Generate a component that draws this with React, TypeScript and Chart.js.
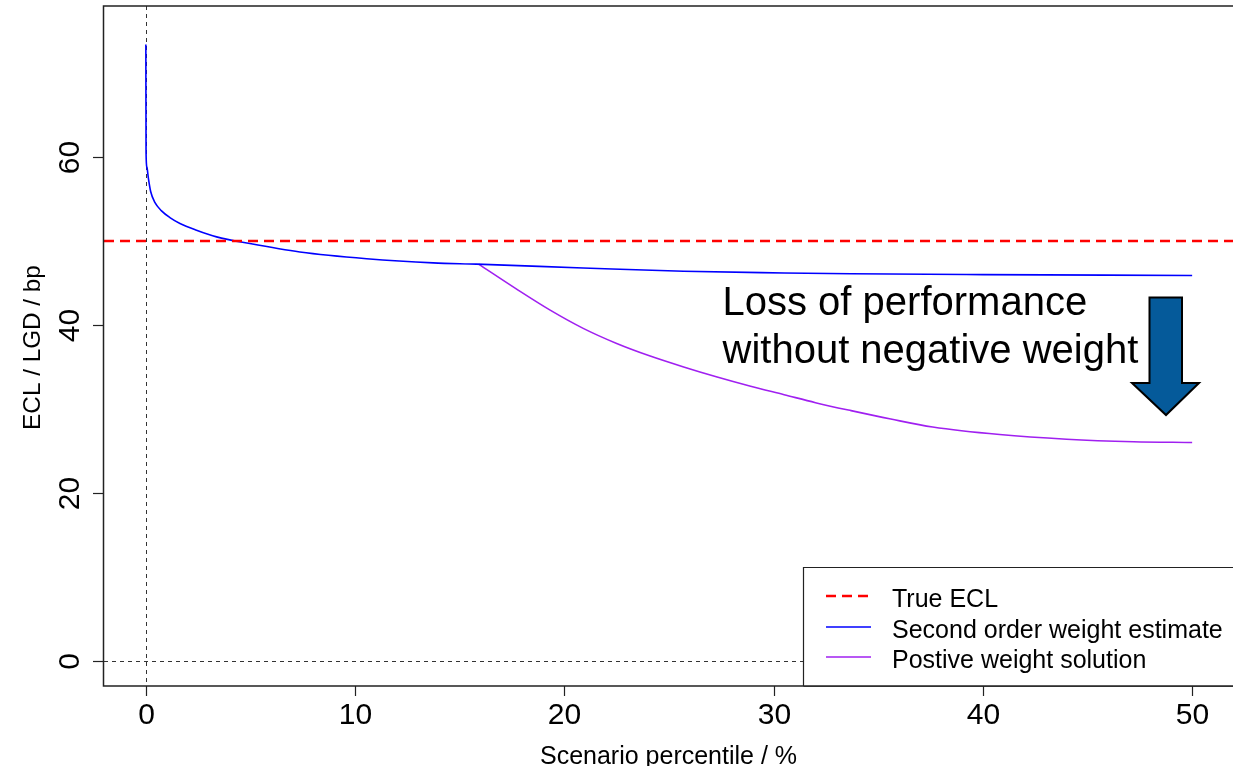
import React, { useEffect, useRef } from "react";
import { Chart, registerables } from "chart.js";

Chart.register(...registerables);

// ---- data ----
const xTicks = [0, 10, 20, 30, 40, 50];
const yTicks = [0, 20, 40, 60];
const xMin = -2;
const xMax = 52;
const yMin = -3;
const yMax = 78;

const trueEcl = 50;

const secondOrderX = [0, 0.01, 0.05, 0.12, 0.23, 0.43, 0.75, 1.15, 1.63, 2.42, 3.38, 4.97, 7.36, 10.55, 13.73, 15.8, 20.9, 25.7, 30.5, 33.7, 40, 50];
const secondOrderY = [73.4, 60.5, 58.8, 57.5, 55.9, 54.6, 53.6, 52.8, 52.1, 51.3, 50.5, 49.7, 48.7, 47.9, 47.4, 47.25, 46.8, 46.4, 46.2, 46.1, 46.0, 45.9];

const positiveX = [15.9, 17.7, 19.3, 20.9, 22.5, 24.1, 25.7, 27.3, 28.9, 30.5, 32.0, 33.7, 35.6, 37.6, 40.8, 44.0, 47.2, 50];
const positiveY = [47.25, 44.3, 41.8, 39.6, 37.8, 36.3, 35.0, 33.8, 32.7, 31.7, 30.75, 29.8, 28.8, 27.85, 26.95, 26.4, 26.1, 26.0];

const legendLabels = ["True ECL", "Second order weight estimate", "Postive weight solution"];
const annotationLines = ["Loss of performance", "without negative weight"];
const xTitle = "Scenario percentile / %";
const yTitle = "ECL / LGD / bp";

const FONT = '"Liberation Sans", Arial, sans-serif';
const RED = "#FF0000";
const BLUE = "#0000FF";
const PURPLE = "#A020F0";
const CANVAS_W = 1250;

const decorPlugin = {
  id: "rdecor",
  beforeDatasetsDraw(chart: any) {
    const { ctx, chartArea } = chart;
    const xs = chart.scales.x;
    const ys = chart.scales.y;
    ctx.save();
    ctx.beginPath();
    ctx.rect(chartArea.left, chartArea.top, chartArea.right - chartArea.left, chartArea.bottom - chartArea.top);
    ctx.clip();
    ctx.strokeStyle = "#333333";
    ctx.lineWidth = 1;
    ctx.setLineDash([4, 4]);
    const x0 = Math.round(xs.getPixelForValue(0)) + 0.5;
    ctx.beginPath();
    ctx.moveTo(x0, chartArea.top);
    ctx.lineTo(x0, chartArea.bottom);
    ctx.stroke();
    const y0 = Math.round(ys.getPixelForValue(0)) + 0.5;
    ctx.beginPath();
    ctx.moveTo(chartArea.left, y0);
    ctx.lineTo(chartArea.right, y0);
    ctx.stroke();
    ctx.restore();
  },
  afterDraw(chart: any) {
    const { ctx, chartArea } = chart;
    const xs = chart.scales.x;
    const ys = chart.scales.y;
    ctx.save();
    // box: left, top and bottom sides (the right side lies beyond the page)
    ctx.strokeStyle = "#222222";
    ctx.lineWidth = 1.5;
    ctx.setLineDash([]);
    ctx.beginPath();
    ctx.moveTo(CANVAS_W, chartArea.top);
    ctx.lineTo(chartArea.left - 0.5, chartArea.top);
    ctx.lineTo(chartArea.left - 0.5, chartArea.bottom);
    ctx.lineTo(CANVAS_W, chartArea.bottom);
    ctx.stroke();

    // x ticks
    ctx.lineWidth = 1.2;
    ctx.fillStyle = "#000000";
    ctx.font = `30px ${FONT}`;
    ctx.textAlign = "center";
    ctx.textBaseline = "alphabetic";
    xTicks.forEach((t) => {
      const px = Math.round(xs.getPixelForValue(t)) + 0.5;
      ctx.beginPath();
      ctx.moveTo(px, chartArea.bottom);
      ctx.lineTo(px, chartArea.bottom + 10);
      ctx.stroke();
      ctx.fillText(String(t), px, 723.5);
    });
    // y ticks
    yTicks.forEach((t) => {
      const py = Math.round(ys.getPixelForValue(t)) + 0.5;
      ctx.beginPath();
      ctx.moveTo(chartArea.left - 11, py);
      ctx.lineTo(chartArea.left - 1, py);
      ctx.stroke();
      ctx.save();
      ctx.translate(79, py);
      ctx.rotate(-Math.PI / 2);
      ctx.fillText(String(t), 0, 0);
      ctx.restore();
    });

    // axis titles
    ctx.font = `25px ${FONT}`;
    ctx.fillText(xTitle, 668.5, 764);
    ctx.save();
    ctx.translate(40, 347.5);
    ctx.rotate(-Math.PI / 2);
    ctx.font = `24.3px ${FONT}`;
    ctx.fillText(yTitle, 0, 0);
    ctx.restore();

    // legend (its right side also lies beyond the page)
    const lx = 803.5;
    const ly = 567.5;
    ctx.fillStyle = "#FFFFFF";
    ctx.fillRect(lx, ly, CANVAS_W - lx, chartArea.bottom - ly);
    ctx.strokeStyle = "#222222";
    ctx.lineWidth = 1.2;
    ctx.beginPath();
    ctx.moveTo(CANVAS_W, ly);
    ctx.lineTo(lx, ly);
    ctx.lineTo(lx, chartArea.bottom);
    ctx.stroke();
    ctx.lineWidth = 1.5;
    ctx.beginPath();
    ctx.moveTo(lx, chartArea.bottom);
    ctx.lineTo(CANVAS_W, chartArea.bottom);
    ctx.stroke();
    const colors = [RED, BLUE, PURPLE];
    const widths = [2.5, 1.6, 1.6];
    const dashes = [[10, 6], [], []];
    const rowY = [596, 627, 657];
    ctx.font = `25px ${FONT}`;
    ctx.textAlign = "left";
    legendLabels.forEach((lab, i) => {
      ctx.strokeStyle = colors[i];
      ctx.lineWidth = widths[i];
      ctx.setLineDash(dashes[i]);
      ctx.beginPath();
      ctx.moveTo(826, rowY[i]);
      ctx.lineTo(871, rowY[i]);
      ctx.stroke();
      ctx.setLineDash([]);
      ctx.fillStyle = "#000000";
      ctx.fillText(lab, 892, rowY[i] + 10.5);
    });

    // annotation
    ctx.font = `40px ${FONT}`;
    ctx.fillStyle = "#000000";
    ctx.fillText(annotationLines[0], 722.5, 315);
    ctx.fillText(annotationLines[1], 722.5, 362.5);

    // arrow
    ctx.beginPath();
    ctx.moveTo(1149.5, 297.5);
    ctx.lineTo(1182, 297.5);
    ctx.lineTo(1182, 383);
    ctx.lineTo(1199, 383);
    ctx.lineTo(1166, 415);
    ctx.lineTo(1132, 383);
    ctx.lineTo(1149.5, 383);
    ctx.closePath();
    ctx.fillStyle = "#055A9A";
    ctx.fill();
    ctx.strokeStyle = "#000000";
    ctx.lineWidth = 2;
    ctx.lineJoin = "miter";
    ctx.stroke();
    ctx.restore();
  },
};

export default function App() {
  const canvasRef = useRef<HTMLCanvasElement | null>(null);

  useEffect(() => {
    document.body.style.overflow = "hidden";
    const canvas = canvasRef.current;
    if (!canvas) return;
    const chart = new Chart(canvas, {
      type: "line",
      data: {
        datasets: [
          {
            label: legendLabels[0],
            data: [
              { x: xMin, y: trueEcl },
              { x: xMax, y: trueEcl },
            ],
            borderColor: RED,
            borderWidth: 2.5,
            borderDash: [10, 6],
            pointRadius: 0,
            order: 0,
          },
          {
            label: legendLabels[1],
            data: secondOrderX.map((x, i) => ({ x, y: secondOrderY[i] })),
            borderColor: BLUE,
            borderWidth: 1.6,
            pointRadius: 0,
            cubicInterpolationMode: "monotone",
            order: 1,
          },
          {
            label: legendLabels[2],
            data: positiveX.map((x, i) => ({ x, y: positiveY[i] })),
            borderColor: PURPLE,
            borderWidth: 1.6,
            pointRadius: 0,
            cubicInterpolationMode: "monotone",
            order: 2,
          },
        ],
      },
      options: {
        animation: false,
        responsive: false,
        devicePixelRatio: 1,
        layout: { padding: { left: 0, top: 6, right: CANVAS_W - 1234, bottom: 0 } },
        plugins: { legend: { display: false }, tooltip: { enabled: false }, title: { display: false } },
        scales: {
          x: {
            type: "linear",
            min: xMin,
            max: xMax,
            grid: { display: false },
            border: { display: false },
            ticks: { display: false },
            afterFit: (s: any) => {
              s.height = 80;
            },
          },
          y: {
            type: "linear",
            min: yMin,
            max: yMax,
            grid: { display: false },
            border: { display: false },
            ticks: { display: false },
            afterFit: (s: any) => {
              s.width = 104;
            },
          },
        },
      } as any,
      plugins: [decorPlugin],
    });
    return () => chart.destroy();
  }, []);

  return (
    <div style={{ position: "fixed", left: 0, top: 0, width: CANVAS_W, height: 766, background: "#FFFFFF" }}>
      <canvas ref={canvasRef} width={CANVAS_W} height={766} style={{ display: "block" }} />
    </div>
  );
}
